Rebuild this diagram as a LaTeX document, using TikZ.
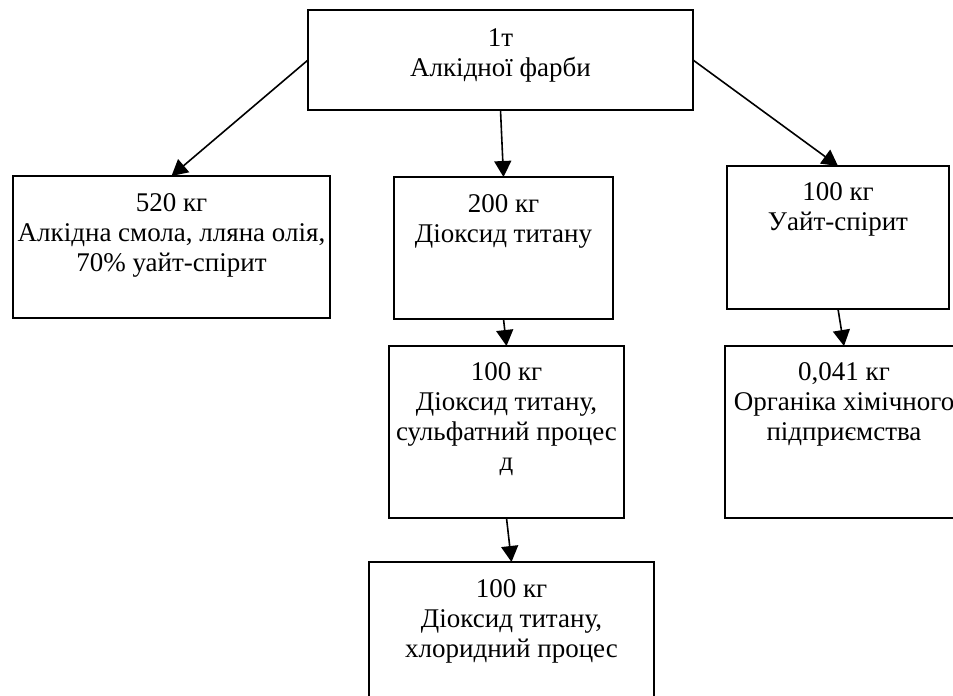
\documentclass[tikz,border=0pt]{standalone}
\usepackage{fontspec}
\setmainfont{Liberation Serif}
\usetikzlibrary{arrows.meta}
\begin{document}
\begin{tikzpicture}[x=1pt,y=-1pt,
  box/.style={draw=black,line width=1.6pt,fill=white,rectangle,inner sep=0pt,outer sep=0pt},
  txt/.style={anchor=north,align=center,inner sep=0pt,font=\fontsize{27}{30}\selectfont},
  arr/.style={line width=1.6pt,-{Triangle[length=16pt,width=17pt]}}]
\useasboundingbox (0,0) rectangle (953,696);
\clip (0,0) rectangle (953,696);
% boxes
\node[box,minimum width=385pt,minimum height=100pt] (top) at (500.5,60) {};
\node[box,minimum width=317pt,minimum height=142pt] (left) at (171.5,247) {};
\node[box,minimum width=219pt,minimum height=142pt] (mid1) at (503.5,248) {};
\node[box,minimum width=222pt,minimum height=143pt] (right1) at (838,237.5) {};
\node[box,minimum width=235pt,minimum height=172pt] (mid2) at (506.5,432) {};
\node[box,minimum width=238pt,minimum height=172pt] (right2) at (844,432) {};
\node[box,minimum width=285pt,minimum height=150pt] (bottom) at (511.5,637) {};
% labels
\node[txt] (ttop) at ([yshift=-18pt]top.north) {1т\\Алкідної фарби};
\node[txt] (tleft) at ([yshift=-17.5pt]left.north) {520 кг\\Алкідна смола, лляна олія,\\70\% уайт-спірит};
\node[txt] (tmid1) at ([yshift=-17pt]mid1.north) {200 кг\\Діоксид титану};
\node[txt] (tright1) at ([yshift=-16pt]right1.north) {100 кг\\Уайт-спірит};
\node[txt] (tmid2) at ([yshift=-16pt]mid2.north) {100 кг\\Діоксид титану,\\сульфатний процес\\д};
\node[txt] (tright2) at ([yshift=-16pt]right2.north) {0,041 кг\\Органіка хімічного\\підприємства};
\node[txt] (tbottom) at ([yshift=-17pt]bottom.north) {100 кг\\Діоксид титану,\\хлоридний процес};
% connectors
\draw[arr] (top.west) -- (left.north);
\draw[arr] (top.south) -- (mid1.north);
\draw[arr] (top.east) -- (right1.north);
\draw[arr] (mid1.south) -- (mid2.north);
\draw[arr] (mid2.south) -- (bottom.north);
\draw[arr] (right1.south) -- (right2.north);
\end{tikzpicture}
\end{document}
